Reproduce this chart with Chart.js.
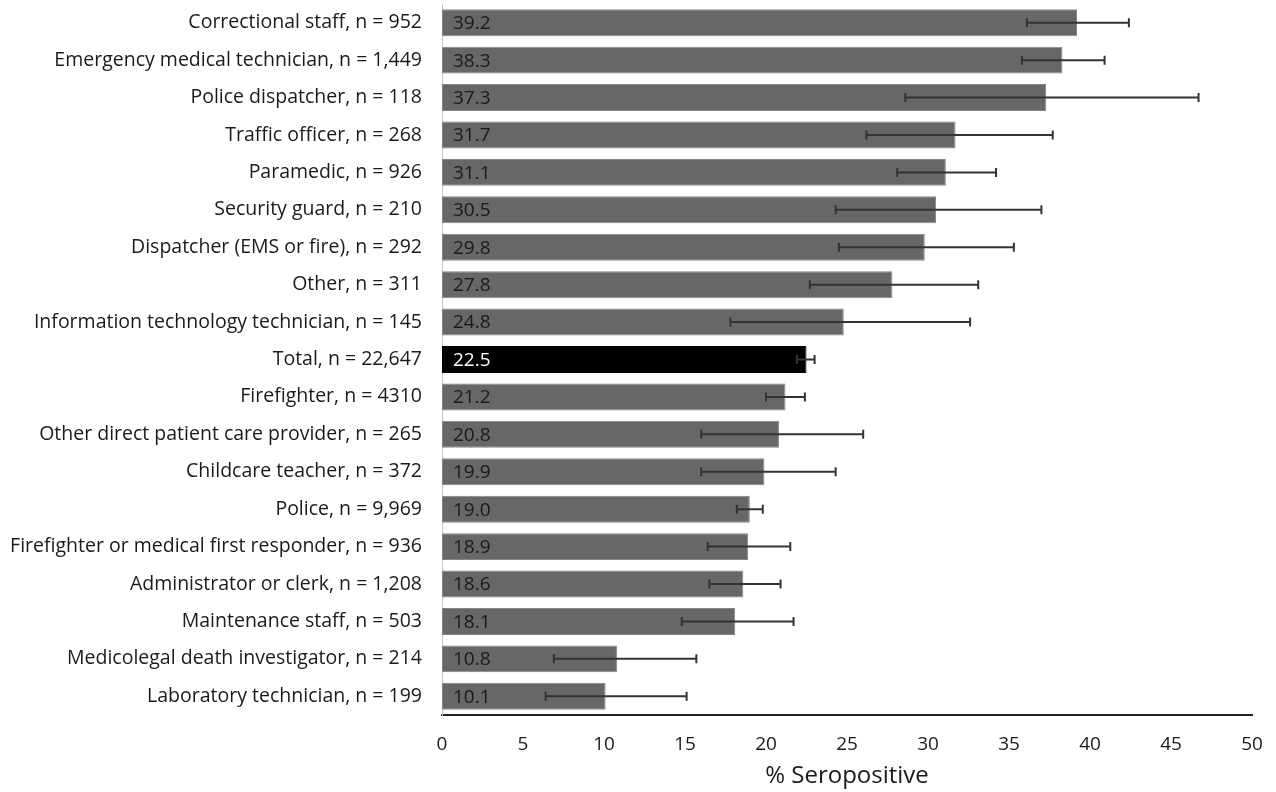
<!DOCTYPE html>
<html>
<head>
<meta charset="utf-8">
<script src="https://cdn.jsdelivr.net/npm/chart.js@4.4.1/dist/chart.umd.min.js"></script>
<style>
  html, body { margin: 0; padding: 0; background: #fff; }
  #wrap { width: 1276px; height: 792px; }
</style>
</head>
<body>
<div id="wrap"><canvas id="seroChart"></canvas></div>
<script>
const occupations = [
    'Correctional staff, n = 952',
    'Emergency medical technician, n = 1,449',
    'Police dispatcher, n = 118',
    'Traffic officer, n = 268',
    'Paramedic, n = 926',
    'Security guard, n = 210',
    'Dispatcher (EMS or fire), n = 292',
    'Other, n = 311',
    'Information technology technician, n = 145',
    'Total, n = 22,647',
    'Firefighter, n = 4310',
    'Other direct patient care provider, n = 265',
    'Childcare teacher, n = 372',
    'Police, n = 9,969',
    'Firefighter or medical first responder, n = 936',
    'Administrator or clerk, n = 1,208',
    'Maintenance staff, n = 503',
    'Medicolegal death investigator, n = 214',
    'Laboratory technician, n = 199'
];
const seropositive = [39.2, 38.3, 37.3, 31.7, 31.1, 30.5, 29.8, 27.8, 24.8, 22.5, 21.2, 20.8, 19.9, 19.0, 18.9, 18.6, 18.1, 10.8, 10.1];
const ciLow  = [36.1, 35.8, 28.6, 26.2, 28.1, 24.3, 24.5, 22.7, 17.8, 21.9, 20.0, 16.0, 16.0, 18.2, 16.4, 16.5, 14.8, 6.9, 6.4];
const ciHigh = [42.4, 40.9, 46.7, 37.7, 34.2, 37.0, 35.3, 33.1, 32.6, 23.0, 22.4, 26.0, 24.3, 19.8, 21.5, 20.9, 21.7, 15.7, 15.1];
const totalIndex = 9;

const FONT = '"Open Sans", "Noto Sans", sans-serif';

// error bars + value labels inside the bars
const errorBars = {
    id: 'errorBars',
    afterDatasetsDraw(chart) {
        const ctx = chart.ctx;
        const x = chart.scales.x;
        const meta = chart.getDatasetMeta(0);
        ctx.save();
        meta.data.forEach((bar, i) => {
            const y = bar.y;
            const x1 = x.getPixelForValue(ciLow[i]);
            const x2 = x.getPixelForValue(ciHigh[i]);
            ctx.strokeStyle = '#333';
            ctx.lineWidth = 2;
            ctx.beginPath();
            ctx.moveTo(x1, y); ctx.lineTo(x2, y);
            ctx.moveTo(x1, y - 4.5); ctx.lineTo(x1, y + 4.5);
            ctx.moveTo(x2, y - 4.5); ctx.lineTo(x2, y + 4.5);
            ctx.stroke();

            ctx.font = '19px ' + FONT;
            ctx.textAlign = 'left';
            ctx.textBaseline = 'middle';
            ctx.fillStyle = i === totalIndex ? '#fff' : '#1a1a1a';
            ctx.fillText(seropositive[i].toFixed(1), x.getPixelForValue(0) + 11, y + 1);
        });
        ctx.restore();
    }
};

const ctx = document.getElementById('seroChart').getContext('2d');
new Chart(ctx, {
    type: 'bar',
    data: {
        labels: occupations,
        datasets: [{
            data: seropositive,
            backgroundColor: seropositive.map((_, i) => i === totalIndex ? '#000' : '#676767'),
            borderColor: seropositive.map((_, i) => i === totalIndex ? '#000' : '#858585'),
            borderWidth: 1,
            borderSkipped: false,
            barPercentage: 0.72,
            categoryPercentage: 1
        }]
    },
    options: {
        indexAxis: 'y',
        responsive: true,
        maintainAspectRatio: false,
        animation: false,
        layout: { padding: { top: 4, right: 24, left: 0, bottom: 0 } },
        plugins: {
            legend: { display: false },
            tooltip: { enabled: false }
        },
        scales: {
            x: {
                min: 0,
                max: 50,
                ticks: {
                    stepSize: 5,
                    padding: 18,
                    color: '#1a1a1a',
                    font: { family: FONT, size: 19 }
                },
                grid: { display: false, drawTicks: false },
                border: { display: true, color: '#222', width: 2 },
                title: {
                    display: true,
                    text: '% Seropositive',
                    color: '#1a1a1a',
                    font: { family: FONT, size: 24 },
                    padding: { top: 0, bottom: 1 }
                },
                afterFit(scale) {
                    scale.height = 77;
                    scale.paddingLeft = 0;
                    scale.paddingRight = 0;
                }
            },
            y: {
                ticks: {
                    padding: 20,
                    color: '#1a1a1a',
                    font: { family: FONT, size: 19.5 },
                    autoSkip: false
                },
                grid: { display: false, drawTicks: false },
                border: { display: true, color: '#c8c8c8', width: 1 },
                afterFit(scale) {
                    scale.width = 442;
                    scale.paddingTop = 0;
                    scale.paddingBottom = 0;
                }
            }
        }
    },
    plugins: [errorBars]
});
</script>
</body>
</html>
